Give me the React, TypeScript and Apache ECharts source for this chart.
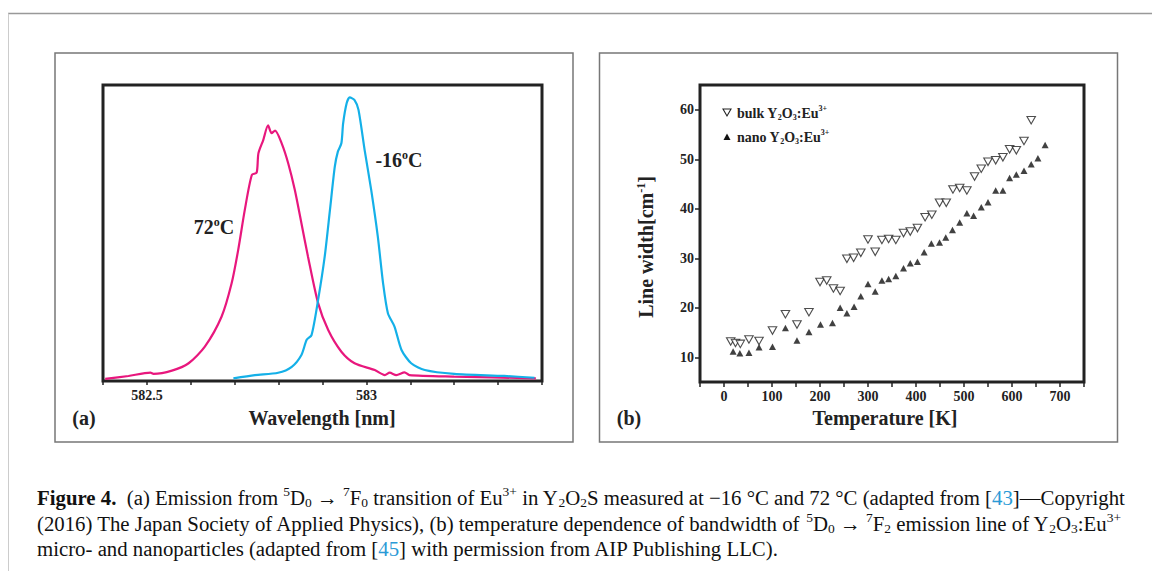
import React, { useEffect, useRef } from 'react';
import * as echarts from 'echarts';

// Panel (a): emission spectra [wavelength nm, relative intensity]
const spectrum72C: [number, number][] = [
  [582.405, 0.007], [582.458, 0.017], [582.508, 0.028], [582.515, 0.024], [582.557, 0.035],
  [582.595, 0.06], [582.632, 0.116], [582.67, 0.217], [582.693, 0.33], [582.708, 0.443],
  [582.723, 0.578], [582.739, 0.696], [582.75, 0.704], [582.754, 0.769], [582.765, 0.814],
  [582.776, 0.864], [582.784, 0.837], [582.792, 0.846], [582.807, 0.803], [582.822, 0.735],
  [582.837, 0.645], [582.852, 0.533], [582.867, 0.42], [582.89, 0.263], [582.913, 0.172],
  [582.943, 0.099], [582.973, 0.06], [583.019, 0.037], [583.042, 0.02], [583.053, 0.028],
  [583.068, 0.02], [583.087, 0.029], [583.098, 0.02], [583.2, 0.015], [583.386, 0.009],
];
const spectrumMinus16C: [number, number][] = [
  [582.697, 0.009], [582.746, 0.02], [582.799, 0.028], [582.83, 0.048], [582.852, 0.088],
  [582.864, 0.139], [582.875, 0.155], [582.89, 0.274], [582.905, 0.42], [582.917, 0.578],
  [582.928, 0.724], [582.935, 0.775], [582.943, 0.803], [582.947, 0.87], [582.955, 0.938],
  [582.962, 0.958], [582.973, 0.949], [582.982, 0.916], [582.996, 0.78], [583.011, 0.645],
  [583.026, 0.488], [583.038, 0.33], [583.049, 0.229], [583.064, 0.184], [583.08, 0.105],
  [583.102, 0.06], [583.133, 0.037], [583.2, 0.024], [583.314, 0.017], [583.383, 0.011],
];
const wavelengthTickLabels = [582.5, 583];

// Panel (b): line width vs temperature
const bulkTemperature = [14, 24, 34, 52, 73, 101, 128, 152, 177, 200, 214, 228, 242, 256, 270, 285, 300, 315, 329, 343, 358, 374, 388, 403, 419, 433, 449, 463, 477, 491, 506, 522, 536, 550, 566, 581, 595, 609, 625, 640];
const bulkWidth = [13.2, 12.9, 12.7, 13.6, 13.3, 15.4, 18.7, 16.6, 19.1, 25.2, 25.5, 23.9, 23.4, 29.9, 30.1, 31.1, 33.8, 31.3, 33.7, 33.9, 33.7, 35.1, 35.4, 36.1, 38.3, 38.8, 41.2, 41.2, 43.9, 44.2, 43.7, 46.5, 48.1, 49.5, 49.8, 50.4, 52.0, 51.8, 53.7, 57.9];
const nanoTemperature = [19, 33, 52, 73, 101, 128, 152, 177, 201, 226, 242, 256, 271, 285, 300, 315, 329, 343, 358, 374, 388, 403, 417, 432, 449, 462, 476, 491, 506, 520, 536, 550, 566, 581, 595, 609, 625, 640, 654, 669];
const nanoWidth = [11.15, 10.8, 10.9, 12.0, 12.1, 15.9, 13.4, 15.1, 16.6, 16.9, 20.0, 18.9, 20.2, 22.3, 24.8, 23.3, 25.5, 25.8, 26.4, 28.0, 29.0, 29.3, 31.2, 33.0, 33.2, 34.2, 35.7, 37.2, 39.1, 38.6, 40.3, 41.3, 43.7, 43.7, 46.2, 46.9, 47.7, 49.0, 50.2, 52.9];
const temperatureTickLabels = [0, 100, 200, 300, 400, 500, 600, 700];
const widthTickLabels = [10, 20, 30, 40, 50, 60];

const SERIF = 'Liberation Serif';
const PINK = '#e8177d';
const BLUE = '#14b0e8';
const INK = '#222';
const CAP = 20.8;

export default function App() {
  const ref = useRef<HTMLDivElement>(null);

  useEffect(() => {
    document.body.style.margin = '0';
    const chart = echarts.init(ref.current!, null, { renderer: 'svg' });

    const capRich = {
      b: { fontFamily: SERIF, fontSize: CAP, fontWeight: 'bold', lineHeight: 25, fill: '#111' },
      sup: { fontFamily: SERIF, fontSize: 13.5, lineHeight: 13, verticalAlign: 'top', fill: '#111' },
      sub: { fontFamily: SERIF, fontSize: 13.5, lineHeight: 13, verticalAlign: 'bottom', fill: '#111' },
      blue: { fontFamily: SERIF, fontSize: CAP, lineHeight: 25, fill: '#2a9ad6' },
    };
    const capStyle = (text: string) => ({
      text,
      fontFamily: SERIF,
      fontSize: CAP,
      lineHeight: 25,
      fill: '#111',
      align: 'left',
      verticalAlign: 'middle',
      rich: capRich,
    });

    const boldLabel = (text: string, size = 20) => ({
      text,
      fontFamily: SERIF,
      fontSize: size,
      fontWeight: 'bold',
      lineHeight: size + 2,
      fill: INK,
      align: 'center',
      verticalAlign: 'middle',
      rich: {
        o: { fontFamily: SERIF, fontSize: 12, fontWeight: 'bold', lineHeight: 12, verticalAlign: 'top', fill: INK },
        sup: { fontFamily: SERIF, fontSize: 12, fontWeight: 'bold', lineHeight: 12, verticalAlign: 'top', fill: INK },
      },
    });

    const legendRich = {
      sub: { fontFamily: SERIF, fontSize: 8, fontWeight: 'bold', lineHeight: 8, verticalAlign: 'bottom', fill: INK },
      sup: { fontFamily: SERIF, fontSize: 8, fontWeight: 'bold', lineHeight: 8, verticalAlign: 'top', fill: INK },
    };
    const legendStyle = (text: string) => ({
      text,
      fontFamily: SERIF,
      fontSize: 14,
      fontWeight: 'bold',
      lineHeight: 17,
      fill: INK,
      align: 'left',
      verticalAlign: 'middle',
      rich: legendRich,
    });

    const tickLabelStyle = {
      fontFamily: SERIF,
      fontSize: 14,
      fontWeight: 'bold' as const,
      color: INK,
    };

    chart.setOption({
      animation: false,
      backgroundColor: '#fff',
      grid: [
        { left: 103, top: 85, width: 439, height: 296, show: true, borderColor: INK, borderWidth: 3, backgroundColor: 'transparent' },
        { left: 700, top: 85, width: 384, height: 297, show: true, borderColor: INK, borderWidth: 3, backgroundColor: 'transparent' },
      ],
      xAxis: [
        {
          gridIndex: 0,
          type: 'value',
          min: 582.4,
          max: 583.4,
          interval: 0.1,
          axisLine: { show: false, onZero: false },
          axisTick: { show: true, length: 4, lineStyle: { color: INK, width: 1.5 } },
          axisLabel: {
            ...tickLabelStyle,
            margin: 7,
            formatter: (v: number) => {
              const hit = wavelengthTickLabels.find((t) => Math.abs(t - v) < 1e-6);
              return hit !== undefined ? String(hit) : '';
            },
          },
          splitLine: { show: false },
        },
        {
          gridIndex: 1,
          type: 'value',
          min: -50,
          max: 750,
          interval: 50,
          axisLine: { show: false, onZero: false },
          axisTick: { show: true, length: 5, lineStyle: { color: INK, width: 1.5 } },
          axisLabel: {
            ...tickLabelStyle,
            margin: 7,
            formatter: (v: number) => (temperatureTickLabels.includes(v) ? String(v) : ''),
          },
          splitLine: { show: false },
        },
      ],
      yAxis: [
        { gridIndex: 0, type: 'value', min: 0, max: 1, show: false, axisLine: { onZero: false }, splitLine: { show: false } },
        {
          gridIndex: 1,
          type: 'value',
          min: 5,
          max: 65,
          interval: 5,
          axisLine: { show: false, onZero: false },
          axisTick: { show: true, length: 5, customValues: widthTickLabels, lineStyle: { color: INK, width: 1.5 } },
          axisLabel: {
            ...tickLabelStyle,
            margin: 6,
            customValues: widthTickLabels,
            formatter: (v: number) => (widthTickLabels.includes(v) ? String(v) : ''),
          },
          splitLine: { show: false },
        },
      ],
      series: [
        {
          name: '72°C',
          type: 'line',
          xAxisIndex: 0,
          yAxisIndex: 0,
          data: spectrum72C,
          showSymbol: false,
          smooth: 0.25,
          lineStyle: { color: PINK, width: 2.2 },
          z: 3,
        },
        {
          name: '-16°C',
          type: 'line',
          xAxisIndex: 0,
          yAxisIndex: 0,
          data: spectrumMinus16C,
          showSymbol: false,
          smooth: 0.25,
          lineStyle: { color: BLUE, width: 2.2 },
          z: 4,
        },
        {
          name: 'bulk',
          type: 'scatter',
          xAxisIndex: 1,
          yAxisIndex: 1,
          data: bulkTemperature.map((t, i) => [t, bulkWidth[i]]),
          symbol: 'triangle',
          symbolRotate: 180,
          symbolSize: [8.5, 7.5],
          itemStyle: { color: '#fff', borderColor: INK, borderWidth: 1.1 },
        },
        {
          name: 'nano',
          type: 'scatter',
          xAxisIndex: 1,
          yAxisIndex: 1,
          data: nanoTemperature.map((t, i) => [t, nanoWidth[i]]),
          symbol: 'triangle',
          symbolSize: [7, 6.5],
          itemStyle: { color: '#111' },
        },
      ],
      graphic: [
        { type: 'line', shape: { x1: 8, y1: 13.5, x2: 1152, y2: 13.5 }, style: { stroke: '#999', lineWidth: 1.5 } },
        { type: 'line', shape: { x1: 8.5, y1: 13.5, x2: 8.5, y2: 571 }, style: { stroke: '#ccc', lineWidth: 1 } },
        { type: 'rect', shape: { x: 55, y: 53, width: 518, height: 389 }, style: { fill: 'none', stroke: '#777', lineWidth: 1.5 } },
        { type: 'rect', shape: { x: 599.5, y: 53, width: 518, height: 389 }, style: { fill: 'none', stroke: '#777', lineWidth: 1.5 } },

        { type: 'text', x: 214, y: 227, z: 10, style: boldLabel('72{o|o}C') },
        { type: 'text', x: 399, y: 160, z: 10, style: boldLabel('-16{o|o}C') },
        { type: 'text', x: 84, y: 418, style: boldLabel('(a)') },
        { type: 'text', x: 322, y: 418, style: boldLabel('Wavelength [nm]') },
        { type: 'text', x: 629, y: 418, style: boldLabel('(b)') },
        { type: 'text', x: 885, y: 418, style: boldLabel('Temperature [K]') },
        { type: 'text', x: 646, y: 247, rotation: Math.PI / 2, style: boldLabel('Line width[cm{sup|-1}]') },

        { type: 'polygon', shape: { points: [[723, 109], [731, 109], [727, 116]] }, style: { fill: '#fff', stroke: INK, lineWidth: 1.1 } },
        { type: 'polygon', shape: { points: [[723.5, 140], [730.5, 140], [727, 133.5]] }, style: { fill: '#111' } },
        { type: 'text', x: 737, y: 113, style: legendStyle('bulk Y{sub|2}O{sub|3}:Eu{sup|3+}') },
        { type: 'text', x: 737, y: 137, style: legendStyle('nano Y{sub|2}O{sub|3}:Eu{sup|3+}') },

        {
          type: 'text', x: 37, y: 497,
          style: capStyle('{b|Figure 4.}  (a) Emission from {sup|5}D{sub|0} → {sup|7}F{sub|0} transition of Eu{sup|3+} in Y{sub|2}O{sub|2}S measured at −16 °C and 72 °C (adapted from [{blue|43}]—Copyright'),
        },
        {
          type: 'text', x: 37, y: 523,
          style: capStyle('(2016) The Japan Society of Applied Physics), (b) temperature dependence of bandwidth of {sup|5}D{sub|0} → {sup|7}F{sub|2} emission line of Y{sub|2}O{sub|3}:Eu{sup|3+}'),
        },
        {
          type: 'text', x: 37, y: 548,
          style: capStyle('micro- and nanoparticles (adapted from [{blue|45}] with permission from AIP Publishing LLC).'),
        },
      ],
    });

    return () => chart.dispose();
  }, []);

  return <div ref={ref} style={{ width: 1152, height: 571 }} />;
}
